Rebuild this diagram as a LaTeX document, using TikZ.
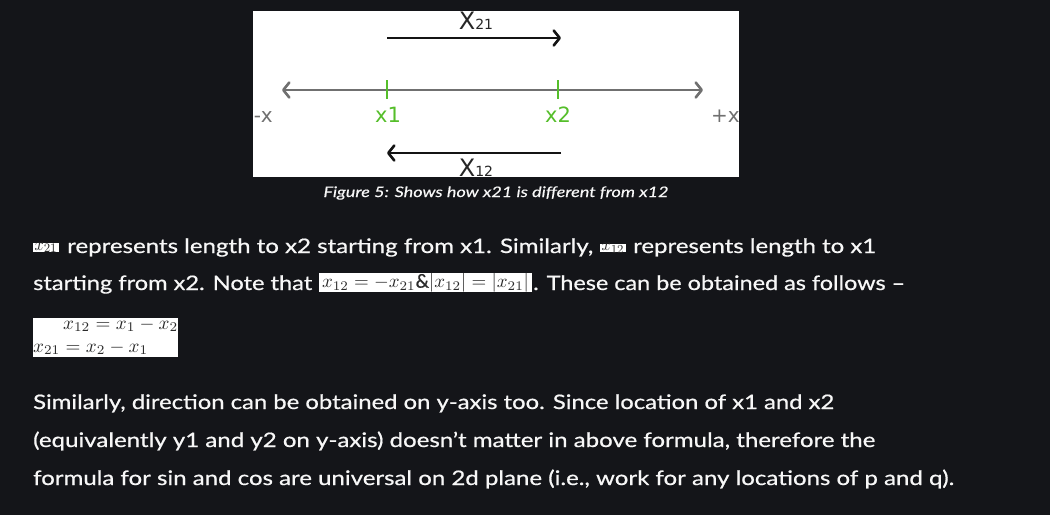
\documentclass[tikz,border=0pt]{standalone}
\usepackage{fontspec}
\setmainfont{Lato}[UprightFeatures={FakeBold=0.6},ItalicFeatures={FakeBold=0.4}]
\newfontfamily\figfont{DejaVu Sans}
\usetikzlibrary{arrows.meta}
\definecolor{bg}{HTML}{141519}
\definecolor{fg}{HTML}{F7F7F7}
\definecolor{axisgray}{HTML}{707070}
\definecolor{tickgreen}{HTML}{55BE2A}
\definecolor{labgray}{HTML}{262626}
\definecolor{mathgray}{HTML}{2A2A2A}
\newcommand{\fitw}[2]{\resizebox{#1}{\height}{#2}}
\tikzset{
  txt/.style={inner sep=0pt, anchor=base west, text=fg, font=\fontsize{20}{24}\selectfont},
  figlab/.style={inner sep=0pt, anchor=base, font=\figfont},
  axisline/.style={draw=axisgray, line width=2.6pt, line cap=round,
    arrows={Straight Barb[length=6pt,width=15pt,line cap=round,line join=round]-Straight Barb[length=6pt,width=15pt,line cap=round,line join=round]}},
  dirarrow/.style={draw=black!92, line width=2.6pt,
    -{Straight Barb[length=6pt,width=15pt,line cap=round,line join=round]}},
  tickmark/.style={draw=tickgreen, line width=2.8pt},
  mathbox/.style={fill=white, draw=none},
}
\begin{document}
\begin{tikzpicture}[x=1pt,y=-1pt]
\useasboundingbox (0,0) rectangle (1050,515);
\fill[bg] (0,0) rectangle (1050,515);

% ---------- figure ----------
\fill[white] (253,11) rectangle (739,177);
\begin{scope}
\clip (253,11) rectangle (739,177);
\coordinate (ta) at (387,38);
\coordinate (tb) at (561,38);
\coordinate (ba) at (561,153);
\coordinate (bb) at (387,153);
\coordinate (axl) at (282,90);
\coordinate (axr) at (703,90);
\coordinate (t1a) at (387,80);
\coordinate (t1b) at (387,99);
\coordinate (t2a) at (558,80);
\coordinate (t2b) at (558,99);
\draw[axisline] (axl) -- (axr);
\draw[tickmark] (t1a) -- (t1b);
\draw[tickmark] (t2a) -- (t2b);
\draw[dirarrow] (ta) -- (tb);
\draw[dirarrow] (ba) -- (bb);
\node[figlab, text=labgray] (x21lab) at (476,29) {\fontsize{24}{24}\selectfont X\fontsize{14}{14}\selectfont 21};
\node[figlab, text=labgray] (x12lab) at (476,176) {\fontsize{24}{24}\selectfont X\fontsize{14}{14}\selectfont 12};
\node[figlab, text=tickgreen, font=\figfont\fontsize{21}{21}\selectfont] (x1lab) at (388,122) {x1};
\node[figlab, text=tickgreen, font=\figfont\fontsize{21}{21}\selectfont] (x2lab) at (558,122) {x2};
\node[figlab, anchor=base east, text=axisgray, font=\figfont\fontsize{20}{20}\selectfont] (mx) at (273,122) {-x};
\node[figlab, anchor=base west, text=axisgray, font=\figfont\fontsize{20}{20}\selectfont] (px) at (711,122) {+x};
\end{scope}

\node[inner sep=0pt, anchor=base, text=fg, font=\fontsize{14.5}{16}\selectfont\itshape] (cap) at (496,197)
  {\fitw{345pt}{Figure 5: Shows how x21 is different from x12}};

% ---------- paragraph 1 ----------
\fill[mathbox] (33,243) rectangle (59,252);
\node[inner sep=0pt, text=mathgray] (img21) at (46,247.5) {\resizebox{23pt}{8pt}{$x_{21}$}};
\node[txt] (l1a) at (67,253) {\fitw{526pt}{represents length to x2 starting from x1. Similarly,}};
\fill[mathbox] (600,244) rectangle (626,252);
\node[inner sep=0pt, text=mathgray] (img12) at (613,248) {\resizebox{23pt}{7.5pt}{$x_{12}$}};
\node[txt] (l1b) at (633,253) {\fitw{243pt}{represents length to x1}};

\node[txt] (l2a) at (33,290) {\fitw{279pt}{starting from x2. Note that}};
\fill[mathbox] (319,273) rectangle (532,292);
\node[inner sep=0pt, text=mathgray] (eqinline) at (425.5,283) {\resizebox{207pt}{!}{$x_{12}=-x_{21}\&|x_{12}|=|x_{21}|$}};
\node[txt] (l2b) at (533,290) {\fitw{372pt}{. These can be obtained as follows –}};

% ---------- equations ----------
\fill[mathbox] (33,318) rectangle (178,357);
\begin{scope}
\clip (33,318) rectangle (178,357);
\node[inner sep=0pt, anchor=base west, text=mathgray] (eq1) at (63,329) {\resizebox{115pt}{!}{$x_{12}=x_1-x_2$}};
\node[inner sep=0pt, anchor=base west, text=mathgray] (eq2) at (33,352) {\resizebox{115pt}{!}{$x_{21}=x_2-x_1$}};
\end{scope}

% ---------- paragraph 2 ----------
\node[txt] (l3) at (33,409) {\fitw{801pt}{Similarly, direction can be obtained on y-axis too. Since location of x1 and x2}};
\node[txt] (l4) at (33,447) {\fitw{842pt}{(equivalently y1 and y2 on y-axis) doesn’t matter in above formula, therefore the}};
\node[txt] (l5) at (33,485) {\fitw{921pt}{formula for sin and cos are universal on 2d plane (i.e., work for any locations of p and q).}};
\end{tikzpicture}
\end{document}
